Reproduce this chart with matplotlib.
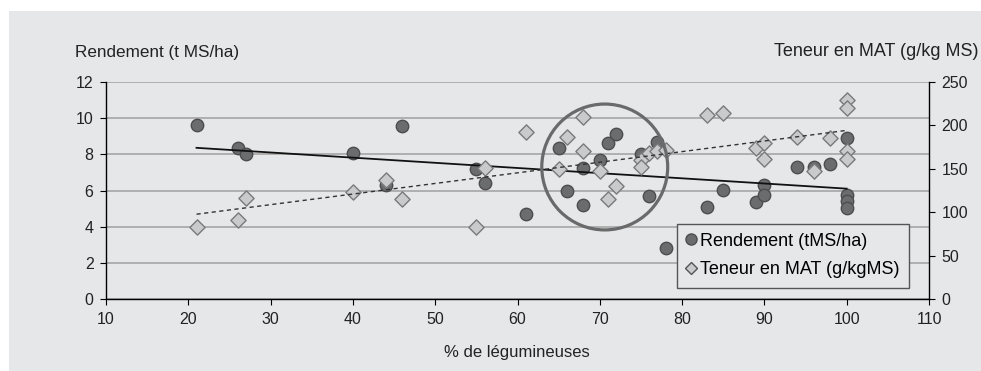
import matplotlib
matplotlib.use('Agg')
import matplotlib.pyplot as plt
from matplotlib.patches import Rectangle, Ellipse
from matplotlib.lines import Line2D
import numpy as np

plt.rcParams['font.family'] = ['Liberation Sans', 'DejaVu Sans']
plt.rcParams['font.size'] = 12

# Rendement (t MS/ha) vs % legumineuses
leg_rend = [21, 26, 27, 40, 44, 46, 55, 56, 61, 65, 66, 68, 68, 70, 71, 72,
            75, 76, 77, 78, 83, 85, 89, 90, 90, 94, 96, 98, 100, 100, 100, 100]
rendement = [9.6, 8.35, 8.0, 8.1, 6.3, 9.55, 7.2, 6.4, 4.7, 8.35, 6.0, 7.25, 5.2, 7.7, 8.6, 9.15,
             8.0, 5.7, 8.7, 2.8, 5.1, 6.05, 5.35, 6.3, 5.75, 7.3, 7.3, 7.45, 8.9, 5.75, 5.4, 5.05]

# Teneur en MAT (g/kg MS) vs % legumineuses
leg_mat = [21, 26, 27, 40, 44, 46, 55, 56, 61, 65, 66, 68, 68, 70, 71, 72,
           75, 75, 76, 77, 78, 83, 85, 89, 90, 90, 94, 96, 98, 100, 100, 100, 100]
mat = [83, 91, 116, 123, 137, 115, 83, 151, 192, 150, 187, 210, 171, 147, 115, 130,
       160, 152, 168, 170, 172, 212, 214, 174, 180, 161, 187, 147, 185, 229, 220, 171, 161]

x_ticks = list(range(10, 111, 10))
left_ticks = list(range(0, 13, 2))
right_ticks = list(range(0, 251, 50))

panel = '#e6e7e9'
dark = '#6b6c6e'
light = '#c9cacc'

fig = plt.figure(figsize=(9.81, 3.71), dpi=100)
fig.patches.append(Rectangle((9 / 981, 0), 1, 1 - 11 / 371, transform=fig.transFigure,
                             facecolor=panel, edgecolor='none', zorder=-10))

ax = fig.add_axes([106 / 981, 72 / 371, 823 / 981, 217 / 371])
ax.set_facecolor('none')
ax2 = ax.twinx()
ax2.set_facecolor('none')

ax.set_xlim(10, 110)
ax.set_ylim(0, 12)
ax2.set_ylim(0, 250)
ax.set_xticks(x_ticks)
ax.set_yticks(left_ticks)
ax2.set_yticks(right_ticks)

ax.yaxis.grid(True, color='#a6a6a6', linewidth=1.2)
ax.set_axisbelow(True)

for a in (ax, ax2):
    a.spines['top'].set_visible(False)
    a.tick_params(direction='out', length=4, width=0.8, colors='black', labelcolor='#222222',
                  pad=5, labelsize=11.5)
ax.spines['right'].set_visible(False)
ax2.spines['left'].set_visible(False)
ax2.spines['bottom'].set_visible(False)
for s in ('left', 'bottom'):
    ax.spines[s].set_linewidth(1.0)
ax2.spines['right'].set_linewidth(1.0)

# trend lines from a linear fit
xs = np.array([min(leg_rend), max(leg_rend)])
p1 = np.polyfit(leg_rend, rendement, 1)
ax.plot(xs, np.polyval(p1, xs), color='#111111', linewidth=1.3, zorder=4)
p2 = np.polyfit(leg_mat, mat, 1)
ax2.plot(xs, np.polyval(p2, xs), color='#333333', linewidth=1.0,
         linestyle=(0, (3, 2.5)), zorder=4)

ax.scatter(leg_rend, rendement, s=80, marker='o', facecolor=dark, edgecolor='#4d4d4f',
           linewidth=1.0, zorder=3)
ax2.scatter(leg_mat, mat, s=60, marker='D', facecolor=light, edgecolor='#7a7a7c',
            linewidth=1.0, zorder=3)

# circled cluster
ax2.add_patch(Ellipse((70.6, 7.3 * 250 / 12), 2 * 7.65, 2 * 3.48 * 250 / 12, facecolor='none',
                      edgecolor='#6a6a6a', linewidth=2.3, zorder=5))

handles = [
    Line2D([], [], linestyle='none', marker='o', markersize=8, markerfacecolor=dark,
           markeredgecolor='#4d4d4f'),
    Line2D([], [], linestyle='none', marker='D', markersize=6.5, markerfacecolor=light,
           markeredgecolor='#555555'),
]
leg = ax2.legend(handles, ['Rendement (tMS/ha)', 'Teneur en MAT (g/kgMS)'],
                 loc='lower right', bbox_to_anchor=(0.982, 0.028), frameon=True,
                 fancybox=False, framealpha=1, handlelength=0.6, handletextpad=0.2,
                 borderpad=0.5, borderaxespad=0.3, labelspacing=0.65, fontsize=13)
leg.get_frame().set_facecolor(panel)
leg.get_frame().set_edgecolor('#555555')
leg.get_frame().set_linewidth(1.0)
leg.set_zorder(6)

fig.text(75 / 981, 1 - 52 / 371, 'Rendement (t MS/ha)', ha='left', va='center',
         color='#222222', fontsize=12.3)
fig.text(978 / 981, 1 - 52 / 371, 'Teneur en MAT (g/kg MS)', ha='right', va='center',
         color='#222222', fontsize=13)
fig.text(517 / 981, 1 - 352 / 371, '% de légumineuses', ha='center', va='center',
         color='#222222', fontsize=12)

fig.savefig('out.png', dpi=100)
